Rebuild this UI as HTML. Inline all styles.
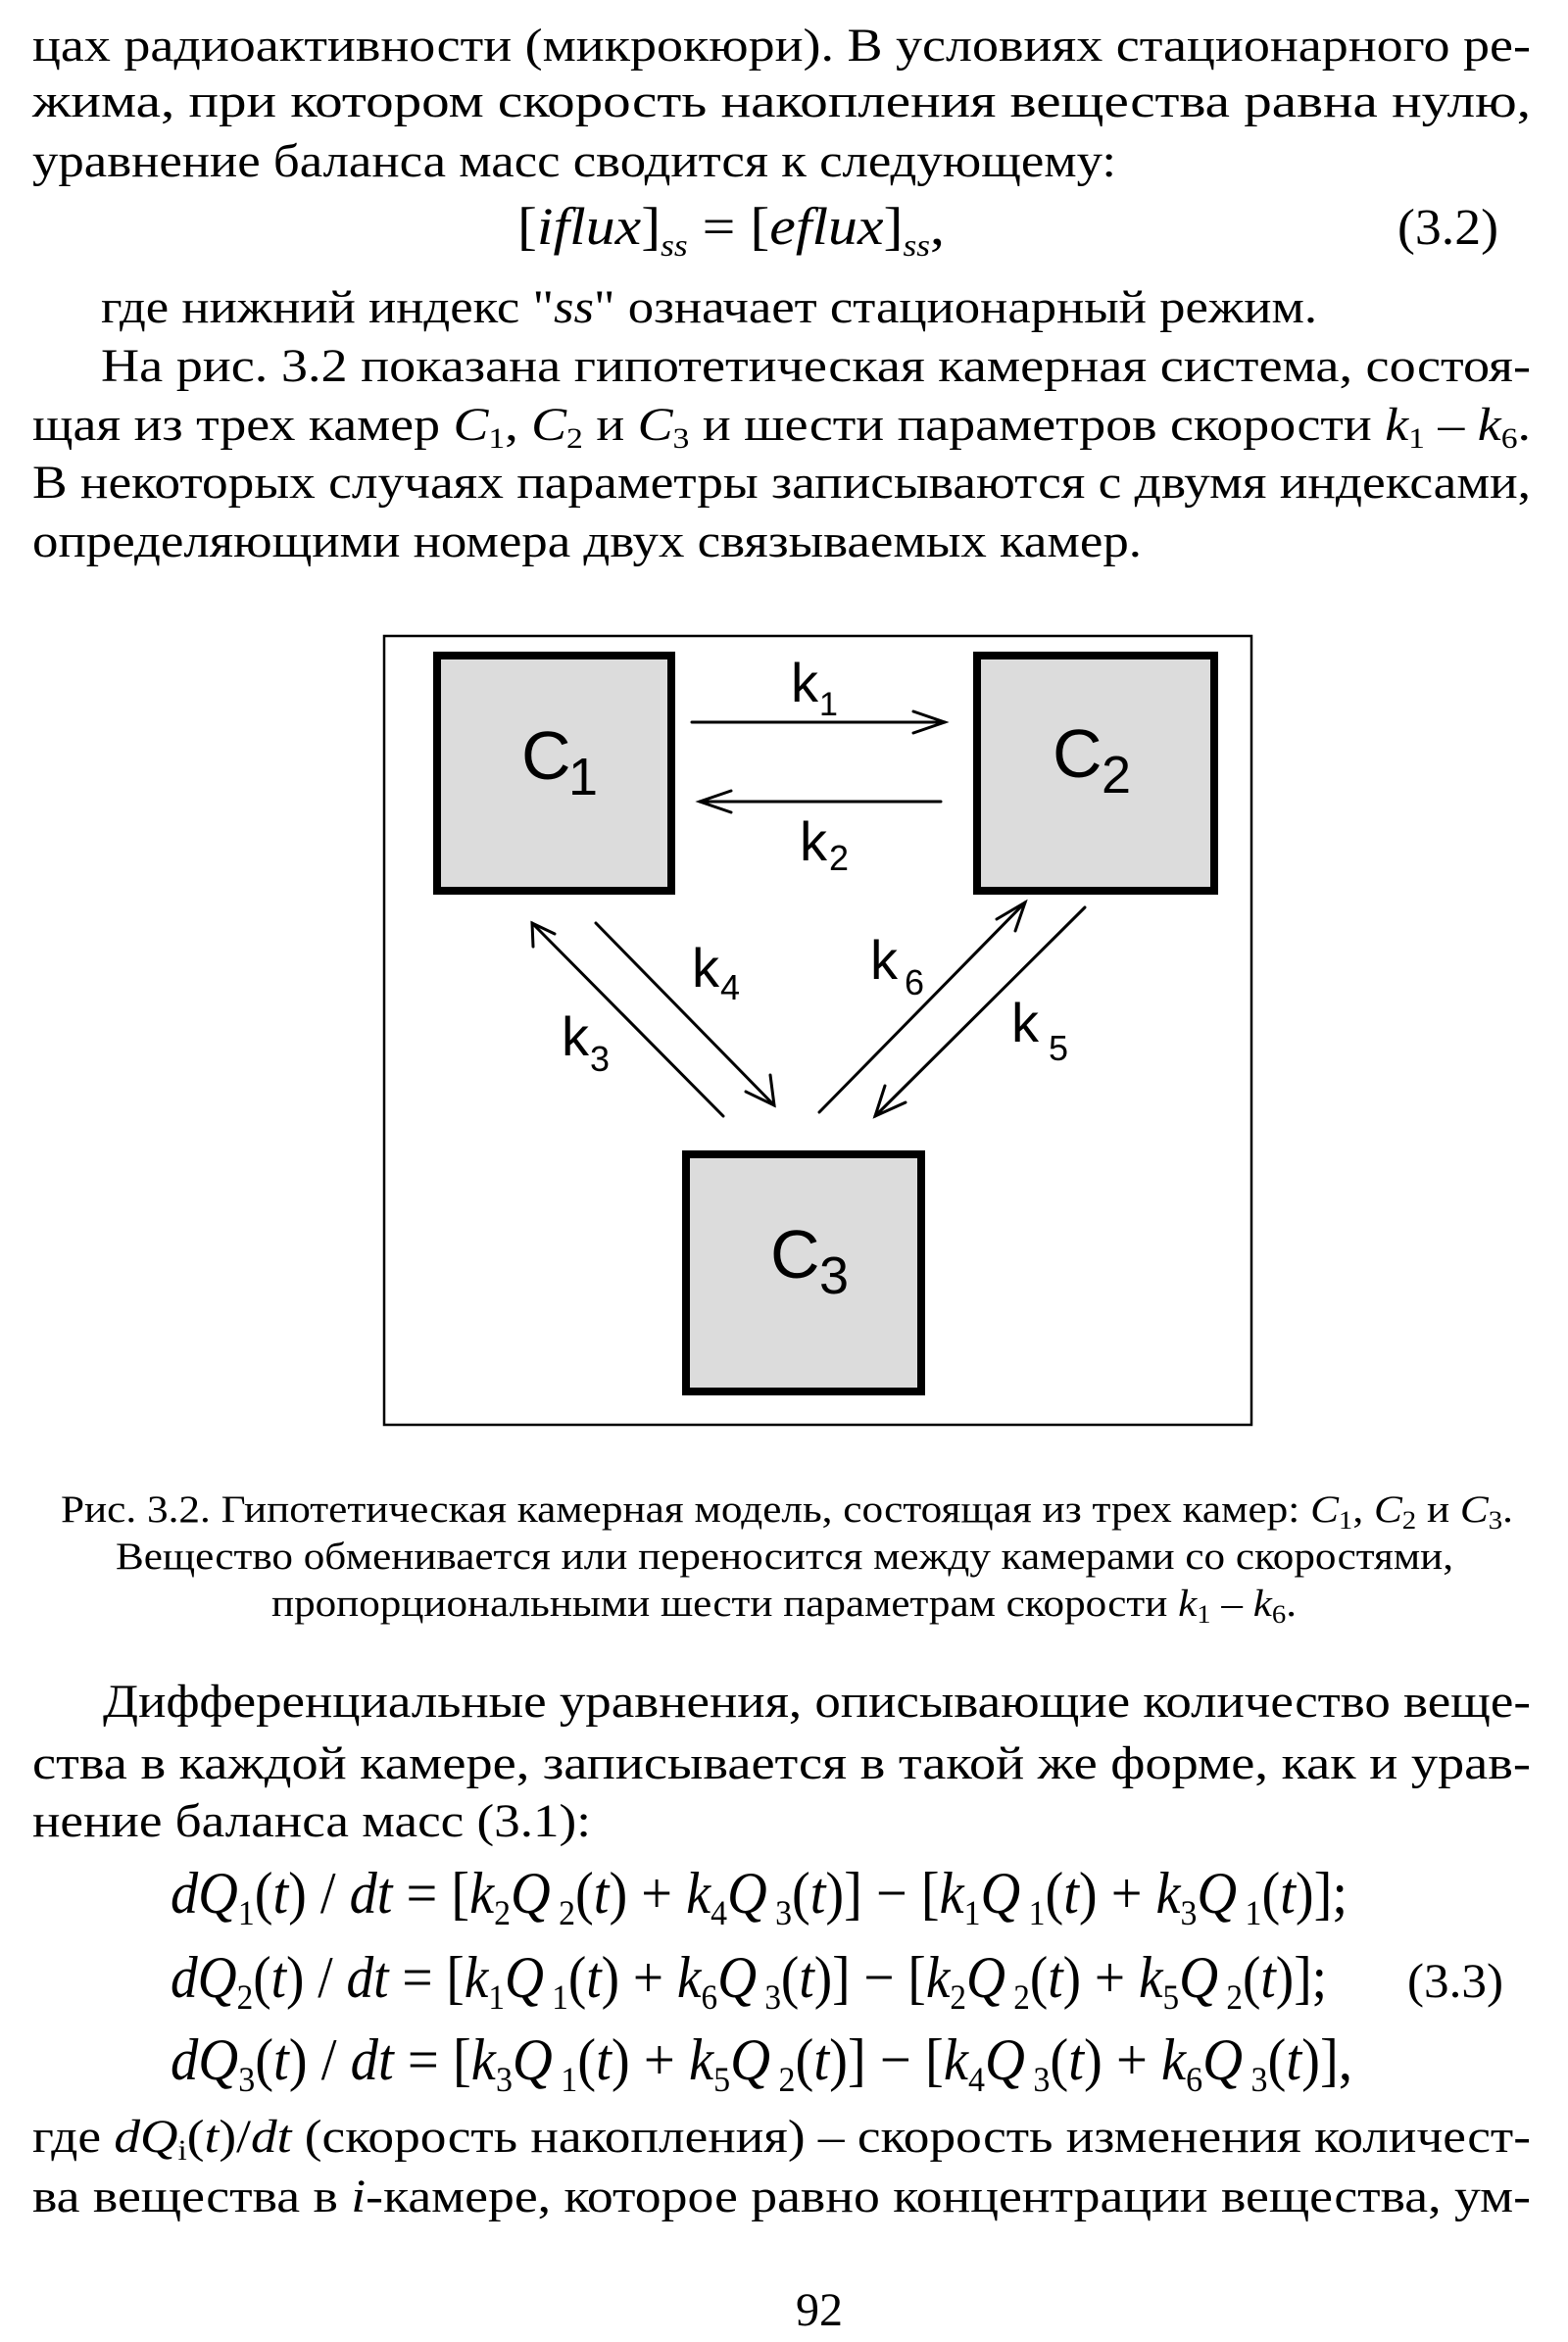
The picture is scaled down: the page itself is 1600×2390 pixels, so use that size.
<!DOCTYPE html>
<html><head><meta charset="utf-8"><style>
html,body{margin:0;padding:0;background:#fff;}
svg{display:block;}
.t{font-family:"Liberation Serif","DejaVu Serif",serif;fill:#000;}
.a{font-family:"Liberation Sans",Arial,sans-serif;fill:#000;}
</style></head><body>
<svg width="1600" height="2390" viewBox="0 0 1600 2390" xmlns="http://www.w3.org/2000/svg">
<rect width="1600" height="2390" fill="#fff"/>
<g class="t" font-size="48">
<text x="33" y="62" textLength="1529" lengthAdjust="spacingAndGlyphs">цах радиоактивности (микрокюри). В условиях стационарного ре-</text>
<text x="33" y="119" textLength="1529" lengthAdjust="spacingAndGlyphs">жима, при котором скорость накопления вещества равна нулю,</text>
<text x="33" y="180" textLength="1106" lengthAdjust="spacingAndGlyphs">уравнение баланса масс сводится к следующему:</text>
<text x="528" y="249" font-size="54" textLength="436" lengthAdjust="spacingAndGlyphs">[<tspan font-style="italic">iflux</tspan>]<tspan font-size="32" dy="12" font-style="italic">ss</tspan><tspan dy="-12"> = [</tspan><tspan font-style="italic">eflux</tspan>]<tspan font-size="32" dy="12" font-style="italic">ss</tspan><tspan dy="-12">,</tspan></text>
<text x="1426" y="249" font-size="52" textLength="103" lengthAdjust="spacingAndGlyphs">(3.2)</text>
<text x="103" y="329" textLength="1241" lengthAdjust="spacingAndGlyphs">где нижний индекс "<tspan font-style="italic">ss</tspan>" означает стационарный режим.</text>
<text x="103" y="389" textLength="1459" lengthAdjust="spacingAndGlyphs">На рис. 3.2 показана гипотетическая камерная система, состоя-</text>
<text x="33" y="449" textLength="1529" lengthAdjust="spacingAndGlyphs">щая из трех камер <tspan font-style="italic">C</tspan><tspan font-size="30" dy="8">1</tspan><tspan dy="-8">, </tspan><tspan font-style="italic">C</tspan><tspan font-size="30" dy="8">2</tspan><tspan dy="-8"> и </tspan><tspan font-style="italic">C</tspan><tspan font-size="30" dy="8">3</tspan><tspan dy="-8"> и шести параметров скорости </tspan><tspan font-style="italic">k</tspan><tspan font-size="30" dy="8">1</tspan><tspan dy="-8"> – </tspan><tspan font-style="italic">k</tspan><tspan font-size="30" dy="8">6</tspan><tspan dy="-8">.</tspan></text>
<text x="33" y="508" textLength="1529" lengthAdjust="spacingAndGlyphs">В некоторых случаях параметры записываются с двумя индексами,</text>
<text x="33" y="568" textLength="1132" lengthAdjust="spacingAndGlyphs">определяющими номера двух связываемых камер.</text>
</g>

<!-- diagram -->
<rect x="392" y="649" width="885" height="805" fill="#fff" stroke="#000" stroke-width="2.5"/>
<rect x="446" y="669" width="239" height="240" fill="#dcdcdc" stroke="#000" stroke-width="8"/>
<rect x="997" y="669" width="242" height="240" fill="#dcdcdc" stroke="#000" stroke-width="8"/>
<rect x="700" y="1178" width="240" height="242" fill="#dcdcdc" stroke="#000" stroke-width="8"/>
<g class="a">
<text x="532" y="795" font-size="70">C</text><text x="580" y="811" font-size="54">1</text>
<text x="1074" y="793" font-size="70">C</text><text x="1124" y="809" font-size="54">2</text>
<text x="786" y="1304" font-size="70">C</text><text x="836" y="1320" font-size="54">3</text>
<text x="807" y="716" font-size="56">k</text><text x="836" y="730" font-size="34">1</text>
<text x="816" y="878" font-size="56">k</text><text x="846" y="888" font-size="36">2</text>
<text x="706" y="1007" font-size="56">k</text><text x="735" y="1020" font-size="36">4</text>
<text x="573" y="1077" font-size="56">k</text><text x="602" y="1093" font-size="36">3</text>
<text x="888" y="999" font-size="56">k</text><text x="923" y="1015" font-size="36">6</text>
<text x="1032" y="1063" font-size="56">k</text><text x="1070" y="1082" font-size="36">5</text>
</g>
<g stroke="#000" stroke-width="3" fill="none" stroke-linecap="round">
<line x1="706" y1="737" x2="964" y2="737"/><polyline points="932,726 964,737 932,748"/>
<line x1="714" y1="818" x2="960" y2="818"/><polyline points="746,807 714,818 746,829"/>
<line x1="738" y1="1139" x2="543" y2="942"/><polyline points="544,966 543,942 566,953"/>
<line x1="608" y1="942" x2="790" y2="1128"/><polyline points="761,1114 790,1128 786,1097"/>
<line x1="836" y1="1135" x2="1046" y2="921"/><polyline points="1017,938 1046,921 1036,950"/>
<line x1="1107" y1="926" x2="893" y2="1139"/><polyline points="903,1108 893,1139 924,1125"/>
</g>

<g class="t" font-size="39">
<text x="62" y="1553" textLength="1482" lengthAdjust="spacingAndGlyphs">Рис. 3.2. Гипотетическая камерная модель, состоящая из трех камер: <tspan font-style="italic">C</tspan><tspan font-size="26" dy="7">1</tspan><tspan dy="-7">, </tspan><tspan font-style="italic">C</tspan><tspan font-size="26" dy="7">2</tspan><tspan dy="-7"> и </tspan><tspan font-style="italic">C</tspan><tspan font-size="26" dy="7">3</tspan><tspan dy="-7">.</tspan></text>
<text x="118" y="1601" textLength="1365" lengthAdjust="spacingAndGlyphs">Вещество обменивается или переносится между камерами со скоростями,</text>
<text x="277" y="1649" textLength="1046" lengthAdjust="spacingAndGlyphs">пропорциональными шести параметрам скорости <tspan font-style="italic">k</tspan><tspan font-size="26" dy="7">1</tspan><tspan dy="-7"> – </tspan><tspan font-style="italic">k</tspan><tspan font-size="26" dy="7">6</tspan><tspan dy="-7">.</tspan></text>
</g>

<g class="t" font-size="48">
<text x="105" y="1752" textLength="1457" lengthAdjust="spacingAndGlyphs">Дифференциальные уравнения, описывающие количество веще-</text>
<text x="33" y="1815" textLength="1529" lengthAdjust="spacingAndGlyphs">ства в каждой камере, записывается в такой же форме, как и урав-</text>
<text x="33" y="1874" textLength="570" lengthAdjust="spacingAndGlyphs">нение баланса масс (3.1):</text>
</g>
<g class="t" font-size="60">
<text x="174" y="1952" textLength="1201" lengthAdjust="spacingAndGlyphs"><tspan font-style="italic">dQ</tspan><tspan font-size="36" dy="12">1</tspan><tspan dy="-12">(</tspan><tspan font-style="italic">t</tspan>) / <tspan font-style="italic">dt</tspan> = [<tspan font-style="italic">k</tspan><tspan font-size="36" dy="12">2</tspan><tspan dy="-12" font-style="italic">Q</tspan><tspan font-size="36" dy="12"> 2</tspan><tspan dy="-12">(</tspan><tspan font-style="italic">t</tspan>) + <tspan font-style="italic">k</tspan><tspan font-size="36" dy="12">4</tspan><tspan dy="-12" font-style="italic">Q</tspan><tspan font-size="36" dy="12"> 3</tspan><tspan dy="-12">(</tspan><tspan font-style="italic">t</tspan>)] − [<tspan font-style="italic">k</tspan><tspan font-size="36" dy="12">1</tspan><tspan dy="-12" font-style="italic">Q</tspan><tspan font-size="36" dy="12"> 1</tspan><tspan dy="-12">(</tspan><tspan font-style="italic">t</tspan>) + <tspan font-style="italic">k</tspan><tspan font-size="36" dy="12">3</tspan><tspan dy="-12" font-style="italic">Q</tspan><tspan font-size="36" dy="12"> 1</tspan><tspan dy="-12">(</tspan><tspan font-style="italic">t</tspan>)];</text>
<text x="174" y="2038" textLength="1180" lengthAdjust="spacingAndGlyphs"><tspan font-style="italic">dQ</tspan><tspan font-size="36" dy="12">2</tspan><tspan dy="-12">(</tspan><tspan font-style="italic">t</tspan>) / <tspan font-style="italic">dt</tspan> = [<tspan font-style="italic">k</tspan><tspan font-size="36" dy="12">1</tspan><tspan dy="-12" font-style="italic">Q</tspan><tspan font-size="36" dy="12"> 1</tspan><tspan dy="-12">(</tspan><tspan font-style="italic">t</tspan>) + <tspan font-style="italic">k</tspan><tspan font-size="36" dy="12">6</tspan><tspan dy="-12" font-style="italic">Q</tspan><tspan font-size="36" dy="12"> 3</tspan><tspan dy="-12">(</tspan><tspan font-style="italic">t</tspan>)] − [<tspan font-style="italic">k</tspan><tspan font-size="36" dy="12">2</tspan><tspan dy="-12" font-style="italic">Q</tspan><tspan font-size="36" dy="12"> 2</tspan><tspan dy="-12">(</tspan><tspan font-style="italic">t</tspan>) + <tspan font-style="italic">k</tspan><tspan font-size="36" dy="12">5</tspan><tspan dy="-12" font-style="italic">Q</tspan><tspan font-size="36" dy="12"> 2</tspan><tspan dy="-12">(</tspan><tspan font-style="italic">t</tspan>)];</text>
<text x="1436" y="2038" font-size="50" textLength="98" lengthAdjust="spacingAndGlyphs">(3.3)</text>
<text x="174" y="2122" textLength="1206" lengthAdjust="spacingAndGlyphs"><tspan font-style="italic">dQ</tspan><tspan font-size="36" dy="12">3</tspan><tspan dy="-12">(</tspan><tspan font-style="italic">t</tspan>) / <tspan font-style="italic">dt</tspan> = [<tspan font-style="italic">k</tspan><tspan font-size="36" dy="12">3</tspan><tspan dy="-12" font-style="italic">Q</tspan><tspan font-size="36" dy="12"> 1</tspan><tspan dy="-12">(</tspan><tspan font-style="italic">t</tspan>) + <tspan font-style="italic">k</tspan><tspan font-size="36" dy="12">5</tspan><tspan dy="-12" font-style="italic">Q</tspan><tspan font-size="36" dy="12"> 2</tspan><tspan dy="-12">(</tspan><tspan font-style="italic">t</tspan>)] − [<tspan font-style="italic">k</tspan><tspan font-size="36" dy="12">4</tspan><tspan dy="-12" font-style="italic">Q</tspan><tspan font-size="36" dy="12"> 3</tspan><tspan dy="-12">(</tspan><tspan font-style="italic">t</tspan>) + <tspan font-style="italic">k</tspan><tspan font-size="36" dy="12">6</tspan><tspan dy="-12" font-style="italic">Q</tspan><tspan font-size="36" dy="12"> 3</tspan><tspan dy="-12">(</tspan><tspan font-style="italic">t</tspan>)],</text>
</g>
<g class="t" font-size="48">
<text x="33" y="2196" textLength="1529" lengthAdjust="spacingAndGlyphs">где <tspan font-style="italic">dQ</tspan><tspan font-size="30" dy="8">i</tspan><tspan dy="-8">(</tspan><tspan font-style="italic">t</tspan>)/<tspan font-style="italic">dt</tspan> (скорость накопления) – скорость изменения количест-</text>
<text x="33" y="2257" textLength="1529" lengthAdjust="spacingAndGlyphs">ва вещества в <tspan font-style="italic">i</tspan>-камере, которое равно концентрации вещества, ум-</text>
<text x="836" y="2373" text-anchor="middle">92</text>
</g>
</svg>
</body></html>
